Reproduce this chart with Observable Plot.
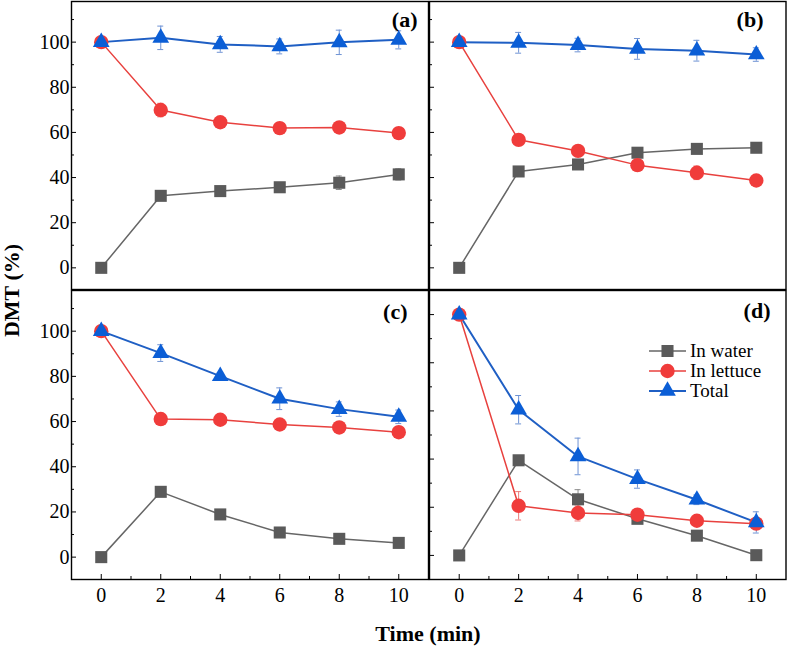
<!DOCTYPE html>
<html><head><meta charset="utf-8">
<script src="https://cdn.jsdelivr.net/npm/d3@7"></script>
<script src="https://cdn.jsdelivr.net/npm/@observablehq/plot@0.6"></script>
<style>
body{margin:0;background:#fff;}
#chart{position:relative;width:788px;height:647px;font-family:"Liberation Serif","Times New Roman",serif;background:#fff;overflow:hidden;}
#chart svg.plot{position:absolute;left:0;top:0;}
#chart svg.plot text{font-family:"Liberation Serif","Times New Roman",serif !important;}
.title{position:absolute;font-weight:bold;font-size:22px;line-height:18px;white-space:nowrap;color:#000;}
.legend{position:absolute;left:649px;top:341px;font-size:19px;line-height:20px;}
.legend div{display:flex;align-items:center;height:20px;}
.legend svg{margin-right:4px;}
</style></head><body><div id="chart"></div>
<script>
// ---- data ----
const times = [0, 2, 4, 6, 8, 10];
const seriesNames = ["In water", "In lettuce", "Total"];
const panelLabels = ["(a)", "(b)", "(c)", "(d)"];
const yTitle = "DMT (%)";
const xTitle = "Time (min)";
const yTicks = [0, 20, 40, 60, 80, 100];
const yMinor = [10, 30, 50, 70, 90, 110];
const xTicks = [0, 2, 4, 6, 8, 10];
const xMinor = [1, 3, 5, 7, 9];

const waterA   = [0, 31.9, 34.0, 35.7, 37.7, 41.4];
const lettuceA = [100, 69.9, 64.5, 61.9, 62.2, 59.7];
const totalA   = [100, 101.9, 99.0, 98.1, 99.9, 101.0];
const waterAErr   = [0, 1.5, 2, 1.5, 3, 2.5];
const lettuceAErr = [0, 3, 1, 1, 1.5, 1];
const totalAErr   = [0, 5.2, 3.5, 3.3, 5.4, 4];

const waterB   = [0, 42.7, 45.8, 51.0, 52.7, 53.2];
const lettuceB = [100, 56.7, 51.8, 45.5, 42.1, 38.7];
const totalB   = [100, 99.7, 98.7, 97.0, 96.2, 94.5];
const waterBErr   = [0, 1, 1, 1, 1.5, 1];
const lettuceBErr = [0, 1, 1.5, 1.5, 3, 1.5];
const totalBErr   = [0, 4.6, 3, 4.6, 4.6, 3];

const waterC   = [0, 28.9, 18.9, 10.9, 8.1, 6.3];
const lettuceC = [100, 61.1, 60.8, 58.7, 57.4, 55.3];
const totalC   = [100, 90.3, 80.1, 70.1, 65.5, 62.1];
const waterCErr   = [0, 1.5, 1.5, 1, 1, 1];
const lettuceCErr = [0, 1, 1, 1, 1, 1.5];
const totalCErr   = [0, 3.7, 1.5, 4.8, 3.2, 3];

const waterD   = [0, 39.5, 23.3, 15.2, 8.2, 0.1];
const lettuceD = [100, 20.6, 17.6, 16.9, 14.4, 13.2];
const totalD   = [100, 60.5, 41.1, 31.7, 23.1, 13.7];
const waterDErr   = [0, 1.5, 4, 1.5, 1, 1];
const lettuceDErr = [0, 5.9, 3.3, 2, 1.5, 2];
const totalDErr   = [0, 5.9, 7.6, 3.8, 2, 4.4];

// ---- styles ----
const W = 788, H = 647;
const FONT = "'Liberation Serif', 'Times New Roman', serif";
const styles = [
  {symbol: "square",   r: 6.8, fill: "#5a5a5a", line: "#666666", err: "#8c8c8c", lw: 1.5},
  {symbol: "circle",   r: 7.2, fill: "#f03c3b", line: "#e8413e", err: "#ec7a78", lw: 1.5},
  {symbol: "triangle", r: 6.2, fill: "#0b5ed6", line: "#1f5fc4", err: "#6f93d4", lw: 2}
];

const panelsCfg = [
  {label: panelLabels[0], data: [waterA, lettuceA, totalA], err: [waterAErr, lettuceAErr, totalAErr],
   box: [71, 1, 428, 289], yDomain: [-9.6, 118], yLabels: true, xAxis: false, ldx: -11, ldy: 9.5},
  {label: panelLabels[1], data: [waterB, lettuceB, totalB], err: [waterBErr, lettuceBErr, totalBErr],
   box: [429, 1, 785.5, 289], yDomain: [-9.6, 118], yLabels: false, xAxis: false, ldx: -22.5, ldy: 10},
  {label: panelLabels[2], data: [waterC, lettuceC, totalC], err: [waterCErr, lettuceCErr, totalCErr],
   box: [71, 290, 428, 579], yDomain: [-9.9, 118], yLabels: true, xAxis: true, ldx: -21, ldy: 13, yTitle: true},
  {label: panelLabels[3], data: [waterD, lettuceD, totalD], err: [waterDErr, lettuceDErr, totalDErr],
   box: [429, 290, 785.5, 579], yDomain: [-10, 110], yLabels: false, xAxis: true, ldx: -15.5, ldy: 11.5}
];

const chart = document.getElementById("chart");

for (const p of panelsCfg) {
  const [L, T, R, B] = p.box;
  const marks = [];
  marks.push(Plot.frame({stroke: "black", strokeWidth: 1.4}));
  marks.push(Plot.axisY(yTicks, {anchor: "left", tickSize: -5, tickPadding: 7, label: null,
    tickFormat: p.yLabels ? d => String(d) : () => "", fontSize: 20, fontFamily: FONT, stroke: "black", fill: "black"}));
  marks.push(Plot.axisY(yMinor, {anchor: "left", tickSize: -3, tickFormat: () => "", label: null, stroke: "black"}));
  if (p.xAxis) {
    marks.push(Plot.axisX(xTicks, {anchor: "bottom", tickSize: -5, tickPadding: 13, label: null,
      tickFormat: d => String(d), fontSize: 20, fontFamily: FONT, stroke: "black", fill: "black"}));
    marks.push(Plot.axisX(xMinor, {anchor: "bottom", tickSize: -3, tickFormat: () => "", label: null, stroke: "black"}));
  }
  p.data.forEach((vals, i) => {
    const s = styles[i];
    const rows = times.map((t, j) => ({t, v: vals[j], e: p.err[i][j], name: seriesNames[i]}));
    const eb = rows.filter(d => d.e > 0);
    marks.push(Plot.line(rows, {x: "t", y: "v", stroke: s.line, strokeWidth: s.lw}));
    marks.push(Plot.ruleX(eb, {x: "t", y1: d => d.v - d.e, y2: d => d.v + d.e, stroke: s.err, strokeWidth: 1}));
    marks.push(Plot.ruleY(eb, {y: d => d.v + d.e, x1: d => d.t - 0.1, x2: d => d.t + 0.1, stroke: s.err, strokeWidth: 1}));
    marks.push(Plot.ruleY(eb, {y: d => d.v - d.e, x1: d => d.t - 0.1, x2: d => d.t + 0.1, stroke: s.err, strokeWidth: 1}));
  });
  p.data.forEach((vals, i) => {
    const s = styles[i];
    const rows = times.map((t, j) => ({t, v: vals[j]}));
    marks.push(Plot.dot(rows, {x: "t", y: "v", symbol: s.symbol, r: s.r, fill: s.fill, stroke: "none"}));
  });
  marks.push(Plot.text([p.label], {frameAnchor: "top-right", text: d => d, dx: p.ldx, dy: p.ldy,
    textAnchor: "end", lineAnchor: "top", fontWeight: "bold", fontSize: 22, fontFamily: FONT, fill: "black"}));
  if (p.yTitle) {
    marks.push(Plot.text([yTitle], {frameAnchor: "top-left", text: d => d, dx: -(L - 11), dy: 0,
      rotate: -90, textAnchor: "middle", lineAnchor: "middle", fontWeight: "bold", fontSize: 22, fontFamily: FONT, fill: "black"}));
  }

  const svg = Plot.plot({
    width: W, height: H,
    marginLeft: L, marginRight: W - R, marginTop: T, marginBottom: H - B,
    x: {domain: [-1, 11], axis: null},
    y: {domain: p.yDomain, axis: null},
    style: {"background": "transparent", "font-family": FONT, "font-size": "20px", "color": "black", "overflow": "visible"},
    marks
  });
  svg.classList.add("plot");
  svg.style.fontFamily = FONT;
  chart.appendChild(svg);
}

// x axis title
const xt = document.createElement("div");
xt.className = "title";
xt.textContent = xTitle;
xt.style.left = "428px"; xt.style.top = "625px";
xt.style.transform = "translateX(-50%)";
chart.appendChild(xt);

// legend
const leg = d3.select(chart).append("div").attr("class", "legend");
seriesNames.forEach((name, i) => {
  const s = styles[i];
  const row = leg.append("div");
  const sv = row.append("svg").attr("width", 37).attr("height", 20);
  sv.append("line").attr("x1", 0).attr("x2", 37).attr("y1", 10).attr("y2", 10).attr("stroke", s.line).attr("stroke-width", s.lw);
  sv.append("path").attr("transform", "translate(18.5,10)")
    .attr("d", d3.symbol(s.symbol === "square" ? d3.symbolSquare : s.symbol === "circle" ? d3.symbolCircle : d3.symbolTriangle, Math.PI * s.r * s.r)())
    .attr("fill", s.fill);
  row.append("span").text(name);
});
</script>
</body></html>
